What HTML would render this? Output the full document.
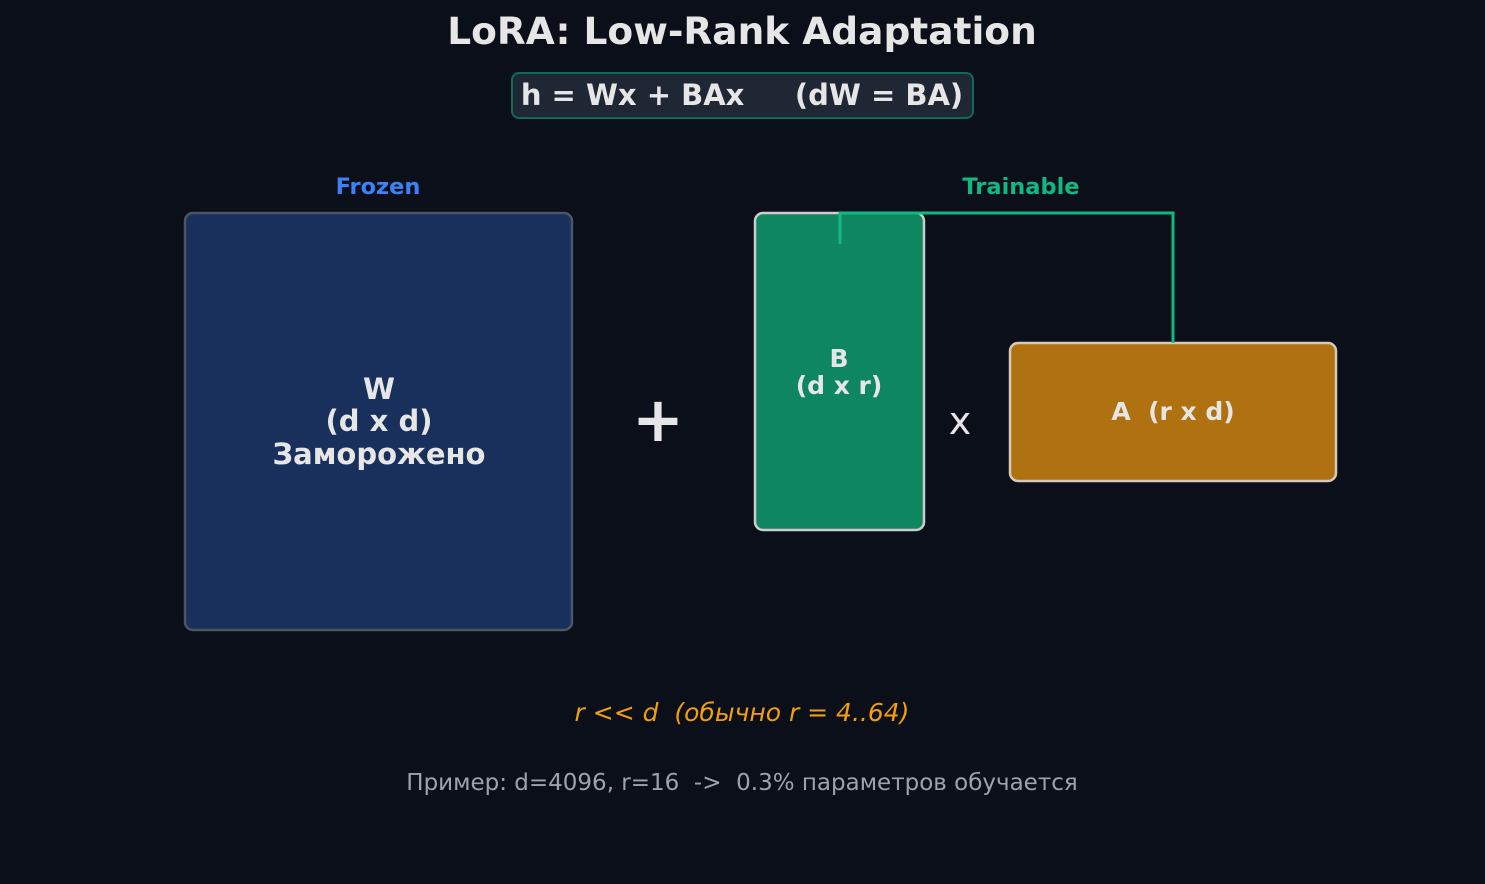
<!DOCTYPE html>
<html><head><meta charset="utf-8"><style>
html,body{margin:0;padding:0;background:#0b0f19;}
svg{display:block;font-family:"DejaVu Sans","Liberation Sans",sans-serif;}
</style></head><body>
<svg width="1485" height="884" viewBox="0 0 1485 884" xmlns="http://www.w3.org/2000/svg">
<rect width="1485" height="884" fill="#0b0f19"/>
<text x="742" y="44" text-anchor="middle" font-size="37.5" font-weight="bold" fill="#e6e6e6">LoRA: Low-Rank Adaptation</text>
<rect x="512" y="73" width="461" height="45" rx="7" fill="#1f2735" stroke="#0f6b58" stroke-width="2"/>
<text x="742" y="105" text-anchor="middle" font-size="29" font-weight="bold" fill="#e6e6e6" xml:space="preserve">h = Wx + BAx     (dW = BA)</text>
<text x="378" y="194" text-anchor="middle" font-size="22.5" font-weight="bold" fill="#3b82f6">Frozen</text>
<text x="1021" y="194" text-anchor="middle" font-size="22.5" font-weight="bold" fill="#10b981">Trainable</text>
<rect x="185" y="213" width="387" height="417" rx="8" fill="#19305c" stroke="#4b5563" stroke-width="2.5"/>
<g font-size="29" font-weight="bold" fill="#e6e6e6" text-anchor="middle">
<text x="379" y="399">W</text>
<text x="379" y="431">(d x d)</text>
<text x="379" y="464">Заморожено</text>
</g>
<text x="658" y="441" text-anchor="middle" font-size="62" font-weight="bold" fill="#e6e6e6">+</text>
<rect x="755" y="213" width="169" height="317" rx="8" fill="#0f8662" stroke="#cccccc" stroke-width="2.5"/>
<g font-size="25" font-weight="bold" fill="#e6e6e6" text-anchor="middle">
<text x="839" y="367">B</text>
<text x="839" y="394">(d x r)</text>
</g>
<text x="960" y="434" text-anchor="middle" font-size="38" fill="#e6e6e6">x</text>
<rect x="1010" y="343" width="326" height="138" rx="8" fill="#b07210" stroke="#d6c9b8" stroke-width="2.5"/>
<text x="1173" y="420" text-anchor="middle" font-size="25" font-weight="bold" fill="#e6e6e6" xml:space="preserve">A  (r x d)</text>
<polyline points="840,244 840,213 1173,213 1173,343" fill="none" stroke="#10b981" stroke-width="3"/>
<text x="742" y="721" text-anchor="middle" font-size="25" font-style="italic" fill="#f59e0b" xml:space="preserve">r &lt;&lt; d  (обычно r = 4..64)</text>
<text x="742" y="790" text-anchor="middle" font-size="23" fill="#9ca3af" xml:space="preserve">Пример: d=4096, r=16  -&gt;  0.3% параметров обучается</text>
</svg>
</body></html>
